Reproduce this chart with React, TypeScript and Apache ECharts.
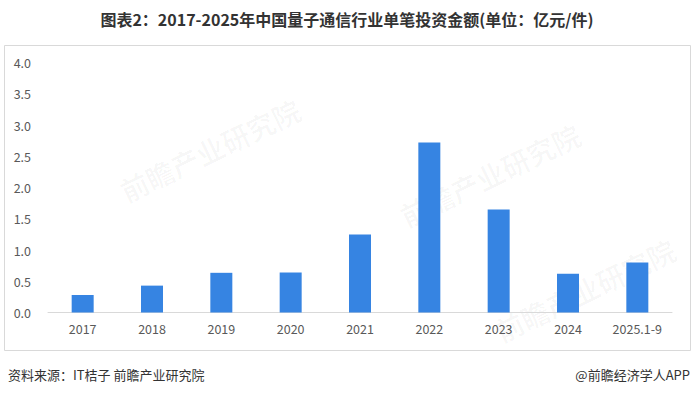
import React, { useEffect, useRef } from "react";
import * as echarts from "echarts";

const categories = ["2017", "2018", "2019", "2020", "2021", "2022", "2023", "2024", "2025.1-9"];
const amounts = [0.28, 0.43, 0.635, 0.64, 1.25, 2.72, 1.65, 0.62, 0.8];
const titleText = "图表2：2017-2025年中国量子通信行业单笔投资金额(单位：亿元/件)";
const sourceText = "资料来源：IT桔子 前瞻产业研究院";
const brandText = "@前瞻经济学人APP";
const watermarkText = "前瞻产业研究院";

export default function App() {
  const ref = useRef<HTMLDivElement>(null);
  useEffect(() => {
    document.body.style.margin = "0";
    const chart = echarts.init(ref.current!, null, { renderer: "svg" });
    const font = "'Noto Sans CJK SC', 'Noto Sans', sans-serif";
    const wm = (x: number, y: number) => ({
      type: "text",
      x,
      y,
      rotation: Math.PI / 7,
      silent: true,
      z: 0,
      style: {
        text: watermarkText,
        fill: "rgba(0,0,0,0.03)",
        font: `bold 28px ${font}`,
        textAlign: "center",
        textVerticalAlign: "middle",
      },
    });
    chart.setOption({
      animation: false,
      backgroundColor: "#ffffff",
      textStyle: { fontFamily: font },
      graphic: [
        {
          type: "rect",
          shape: { x: 4.5, y: 45.5, width: 686, height: 305 },
          style: { fill: "none", stroke: "#d9d9d9", lineWidth: 1 },
          silent: true,
        },
        wm(210, 150),
        wm(490, 175),
        wm(585, 290),
        {
          type: "text",
          left: "center",
          top: 11,
          style: {
            text: titleText,
            fill: "#333333",
            font: `bold 16px ${font}`,
          },
        },
        {
          type: "text",
          x: 8,
          y: 374,
          style: {
            text: sourceText,
            fill: "#333333",
            font: `13px ${font}`,
            textVerticalAlign: "middle",
          },
        },
        {
          type: "text",
          x: 690,
          y: 374,
          style: {
            text: brandText,
            fill: "#333333",
            font: `13px ${font}`,
            textAlign: "right",
            textVerticalAlign: "middle",
          },
        },
      ],
      grid: { left: 48, right: 22, top: 62.5, bottom: 82.5 },
      xAxis: {
        type: "category",
        data: categories,
        axisLine: { lineStyle: { color: "#d9d9d9" } },
        axisTick: { show: false },
        axisLabel: { color: "#595959", fontSize: 12.5, margin: 10 },
      },
      yAxis: {
        type: "value",
        min: 0,
        max: 4,
        interval: 0.5,
        splitLine: { show: false },
        axisLine: { show: false },
        axisTick: { show: false },
        axisLabel: {
          color: "#595959",
          fontSize: 12.5,
          margin: 17,
          formatter: (v: number) => v.toFixed(1),
        },
      },
      series: [
        {
          type: "bar",
          data: amounts,
          barWidth: 22,
          itemStyle: { color: "#3684E2" },
          z: 3,
        },
      ],
    });
    return () => chart.dispose();
  }, []);
  return <div ref={ref} style={{ width: 694, height: 395 }} />;
}
